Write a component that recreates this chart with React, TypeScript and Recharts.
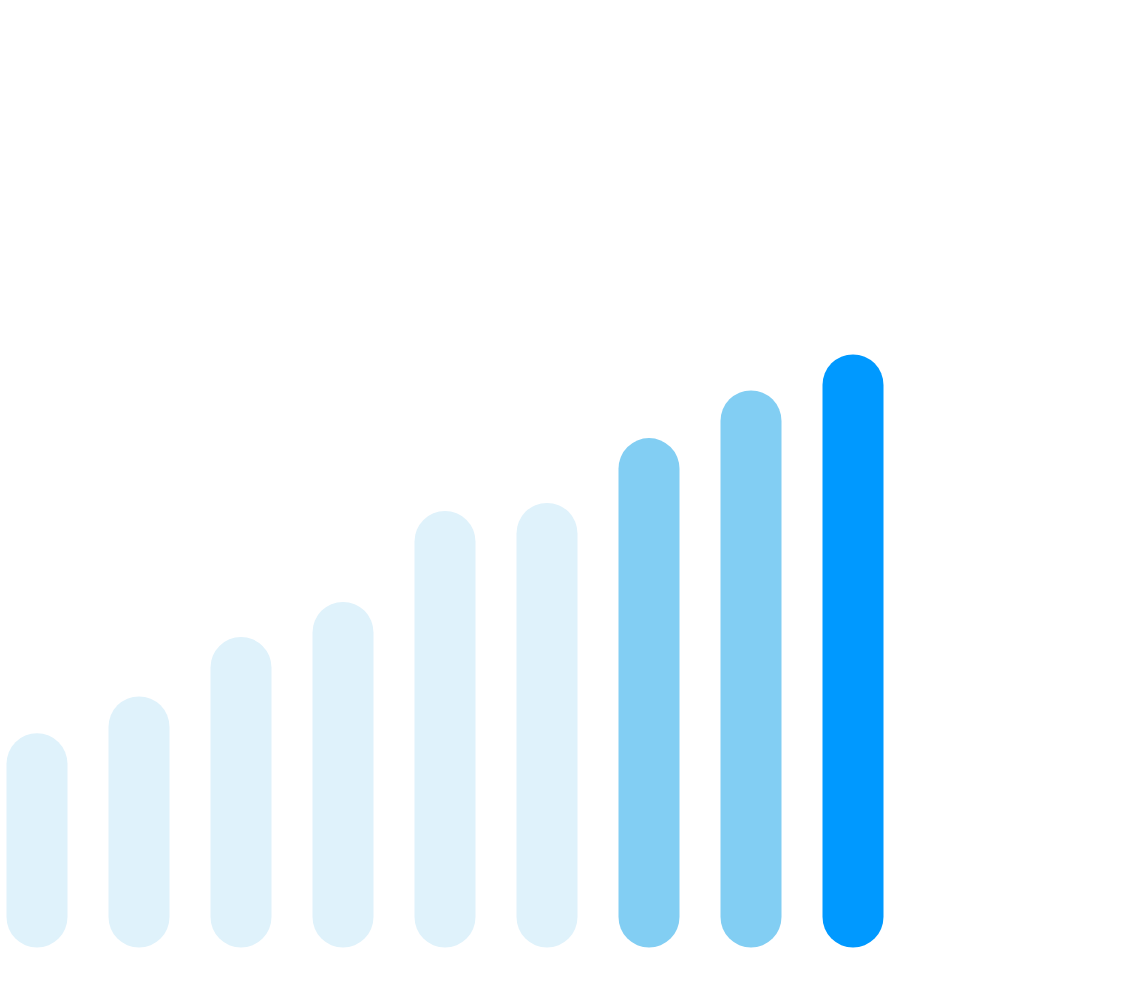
import React from "react";
import { BarChart, Bar, XAxis, YAxis, Cell } from "recharts";

const categories = ["1", "2", "3", "4", "5", "6", "7", "8", "9"];
const values = [23.8, 27.9, 34.5, 38.4, 48.5, 49.4, 56.6, 61.9, 65.9];
const barColors = [
  "#DFF2FB",
  "#DFF2FB",
  "#DFF2FB",
  "#DFF2FB",
  "#DFF2FB",
  "#DFF2FB",
  "#82CEF3",
  "#82CEF3",
  "#0099FF",
];

const data = categories.map((c, i) => ({ name: c, value: values[i] }));

const PillBar = (props: any) => {
  const { x, y, width, height, fill } = props;
  if (width == null || height == null) return null;
  const r = width / 2;
  const cx = x + r;
  return (
    <line
      x1={cx}
      x2={cx}
      y1={y + r}
      y2={y + height - r}
      stroke={fill}
      strokeWidth={width}
      strokeLinecap="round"
      shapeRendering="geometricPrecision"
    />
  );
};

export default function App() {
  return (
    <div style={{ position: "absolute", left: 0, top: 0, width: 1129, height: 1001, background: "#fff" }}>
      <BarChart
        width={1129}
        height={1001}
        data={data}
        margin={{ top: 47.5, right: 225.5, bottom: 53.5, left: -14.5 }}
        barCategoryGap={0}
      >
        <XAxis dataKey="name" hide />
        <YAxis hide domain={[0, 100]} />
        <Bar dataKey="value" barSize={61} shape={PillBar} isAnimationActive={false}>
          {data.map((d, i) => (
            <Cell key={d.name} fill={barColors[i]} />
          ))}
        </Bar>
      </BarChart>
    </div>
  );
}
